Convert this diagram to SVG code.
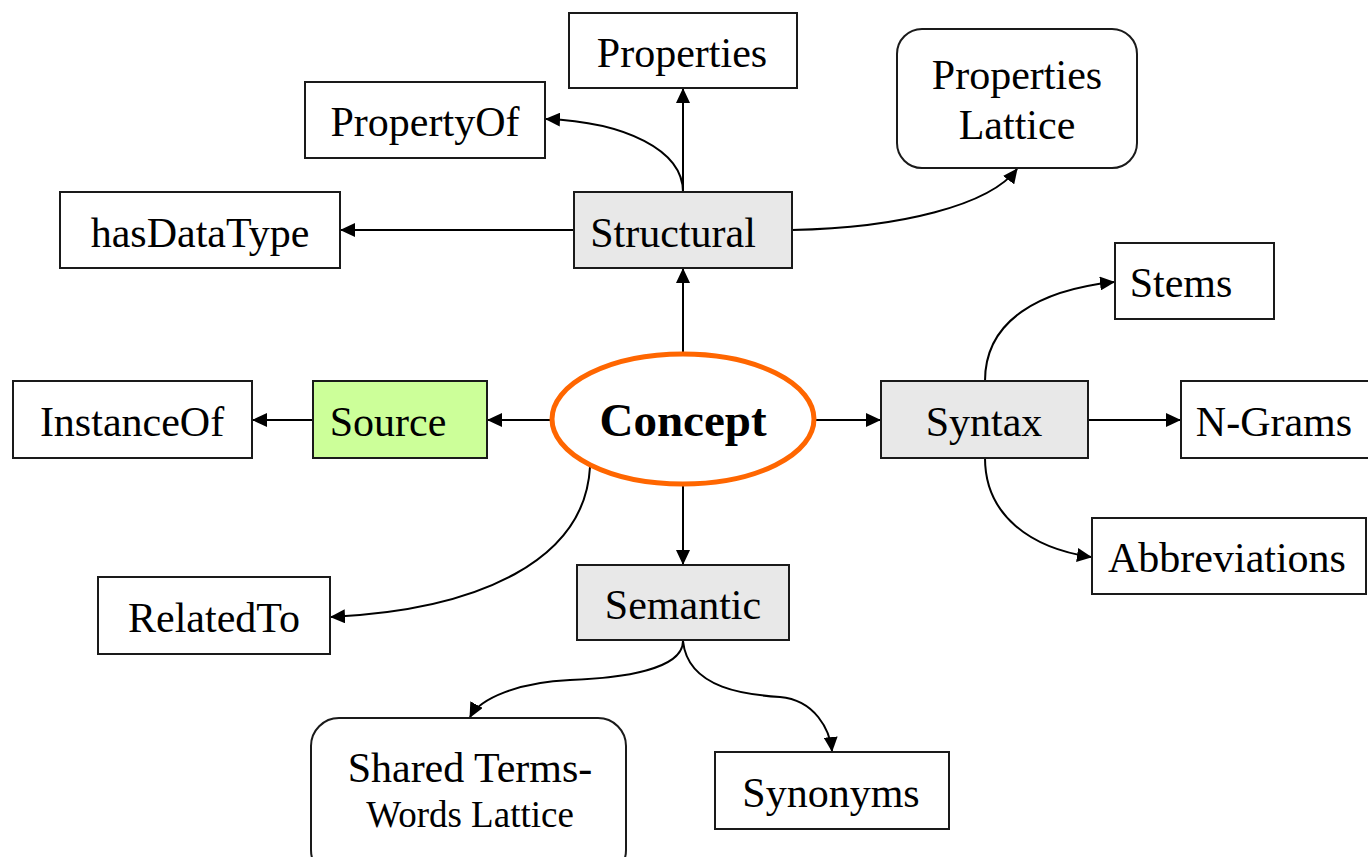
<svg xmlns="http://www.w3.org/2000/svg" width="1368" height="857" viewBox="0 0 1368 857">
<defs>
<marker id="ah" markerWidth="15" markerHeight="14" refX="14" refY="7" orient="auto" markerUnits="userSpaceOnUse">
<path d="M0,0 L15,7 L0,14 Z" fill="#000"/>
</marker>
<style>
.box{fill:#fff;stroke:#1a1a1a;stroke-width:2}
.gray{fill:#e8e8e8;stroke:#1a1a1a;stroke-width:2}
.green{fill:#ccff99;stroke:#1a1a1a;stroke-width:2}
.t{font-family:"Liberation Serif","Times New Roman",serif;font-size:42px;fill:#000;text-anchor:middle}
.edge{fill:none;stroke:#000;stroke-width:2;marker-end:url(#ah)}
</style>
</defs>
<rect width="1368" height="857" fill="#fff"/>
<g id="connectors">
<path class="edge" d="M683,352 L683,269"/>
<path class="edge" d="M683,192 L683,89"/>
<path class="edge" d="M683,192 C683,150 625,122 546,119"/>
<path class="edge" d="M574,230 L341,230"/>
<path class="edge" d="M792,230 C900,228 990,205 1017,169"/>
<path class="edge" d="M551,420 L488,420"/>
<path class="edge" d="M313,420 L253,420"/>
<path class="edge" d="M814,420 L880,420"/>
<path class="edge" d="M1088,420 L1180,420"/>
<path class="edge" d="M985,381 C985,320 1040,290 1114,282"/>
<path class="edge" d="M985,458 C985,515 1030,548 1091,557"/>
<path class="edge" d="M683,486 L683,564"/>
<path class="edge" d="M590,467 C585,560 480,610 331,617"/>
<path class="edge" d="M683,641 C683,670 620,678 570,680 C520,682 480,698 470,717"/>
<path class="edge" d="M683,641 C688,690 750,695 780,697 C815,700 830,730 832,751"/>
</g>
<g id="properties"><rect class="box" x="569" y="13" width="228" height="75"/><text class="t" x="682" y="67">Properties</text></g>
<g id="propertyof"><rect class="box" x="305" y="82" width="240" height="76"/><text class="t" x="425" y="136">PropertyOf</text></g>
<g id="propertieslattice"><rect class="box" x="897" y="29" width="240" height="139" rx="25"/><text class="t" x="1017" y="89">Properties</text><text class="t" x="1017" y="139">Lattice</text></g>
<g id="hasdatatype"><rect class="box" x="60" y="192" width="280" height="76"/><text class="t" x="200" y="247">hasDataType</text></g>
<g id="structural"><rect class="gray" x="574" y="192" width="218" height="76"/><text class="t" x="673" y="247">Structural</text></g>
<g id="stems"><rect class="box" x="1115" y="243" width="159" height="76"/><text class="t" x="1181" y="297">Stems</text></g>
<g id="instanceof"><rect class="box" x="13" y="381" width="239" height="77"/><text class="t" x="132" y="436">InstanceOf</text></g>
<g id="source"><rect class="green" x="313" y="381" width="174" height="77"/><text class="t" x="388" y="436">Source</text></g>
<g id="concept"><ellipse cx="683" cy="419" rx="131" ry="65" fill="#fff" stroke="#ff6600" stroke-width="5"/><text class="t" x="683" y="436" style="font-weight:bold;font-size:47px">Concept</text></g>
<g id="syntax"><rect class="gray" x="881" y="381" width="207" height="77"/><text class="t" x="984" y="436">Syntax</text></g>
<g id="ngrams"><rect class="box" x="1181" y="381" width="190" height="77"/><text class="t" x="1274" y="436">N-Grams</text></g>
<g id="abbreviations"><rect class="box" x="1092" y="518" width="274" height="76"/><text class="t" x="1227" y="572">Abbreviations</text></g>
<g id="semantic"><rect class="gray" x="577" y="565" width="212" height="75"/><text class="t" x="683" y="619">Semantic</text></g>
<g id="relatedto"><rect class="box" x="98" y="577" width="232" height="77"/><text class="t" x="214" y="632">RelatedTo</text></g>
<g id="sharedterms"><rect class="box" x="311" y="718" width="315" height="160" rx="28"/><text class="t" x="470" y="782">Shared Terms-</text><text class="t" x="470" y="827" style="font-size:37px">Words Lattice</text></g>
<g id="synonyms"><rect class="box" x="715" y="752" width="234" height="77"/><text class="t" x="831" y="807">Synonyms</text></g>
</svg>
